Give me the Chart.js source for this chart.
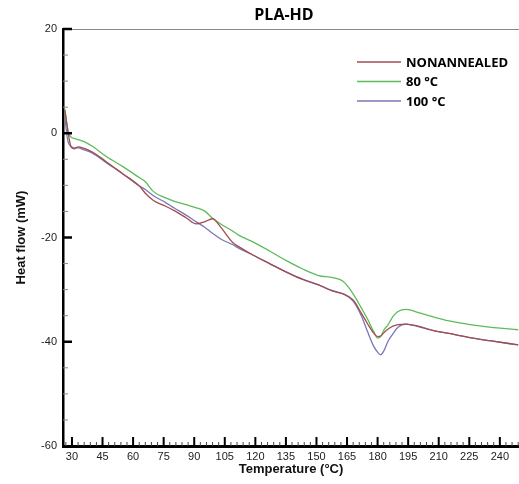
<!DOCTYPE html>
<html lang="en">
<head>
  <meta charset="UTF-8" />
  <title>PLA-HD</title>
  <script src="https://cdn.jsdelivr.net/npm/chart.js"></script>
  <style>
    body { margin: 0; background: #fff; }
    #wrap { width: 519px; height: 484px; }
  </style>
</head>
<body>
  <div id="wrap"><canvas id="dscChart" width="519" height="484"></canvas></div>

  <script>
    // temperature grid (°C) shared by all three curves
    const temps = [26.5, 28, 29.5, 31, 33, 36, 40, 47, 55, 63, 66, 70, 76, 80, 86, 91, 95, 99, 103, 109,
      112, 119, 127, 135, 143, 151, 158, 163, 168, 172, 175, 178, 180, 181.5, 183, 185, 187.5, 190, 194,
      200, 207, 215, 224, 235, 249];

    // heat flow (mW)
    const nonAnnealed = [4.5, 0.5, -2.6, -3.0, -2.6, -2.9, -3.6, -5.5, -7.8, -10.1, -11.5, -12.9, -14.0, -14.8,
      -16.2, -17.4, -17.0, -16.4, -18.0, -21.0, -21.8, -23.4, -25.0, -26.6, -28.0, -29.1, -30.3, -30.8, -32.0,
      -34.5, -36.5, -38.3, -39.0, -38.9, -38.3, -37.6, -37.0, -36.7, -36.6, -37.1, -37.8, -38.4, -39.1, -39.8, -40.6];
    const annealed80 = [4.6, 0.5, -0.7, -1.0, -1.2, -1.6, -2.5, -4.5, -6.4, -8.5, -9.3, -11.2, -12.4, -13.0,
      -13.7, -14.3, -14.9, -16.3, -17.4, -18.8, -19.6, -20.9, -22.6, -24.4, -26.0, -27.3, -27.7, -28.4, -30.8,
      -33.5, -35.6, -38.0, -39.3, -39.0, -37.8, -36.8, -35.2, -34.2, -33.8, -34.4, -35.2, -36.0, -36.6, -37.2, -37.7];
    const annealed100 = [3.0, -1.5, -2.5, -2.8, -2.8, -3.2, -3.8, -5.7, -7.8, -10.1, -10.8, -12.0, -13.3, -14.3,
      -15.7, -17.0, -18.0, -19.2, -20.3, -21.4, -22.1, -23.4, -25.0, -26.6, -28.0, -29.1, -30.2, -30.8, -32.2,
      -35.0, -38.0, -40.8, -42.0, -42.5, -41.8, -40.0, -38.5, -37.2, -36.6, -37.0, -37.8, -38.4, -39.1, -39.8, -40.6];

    const seriesNames = ['NONANNEALED', '80 °C', '100 °C'];
    const xTicks = [30, 45, 60, 75, 90, 105, 120, 135, 150, 165, 180, 195, 210, 225, 240];
    const yTicks = [-60, -40, -20, 0, 20];

    const toPoints = arr => arr.map((v, i) => ({ x: temps[i], y: v }));

    Chart.defaults.font.family = "'Liberation Sans', Arial, sans-serif";

    // title, legend, top frame and the inward tick marks
    const decorations = {
      id: 'decorations',
      afterDraw(chart) {
        const ctx = chart.ctx;
        const area = chart.chartArea;
        const xs = chart.scales.x;
        const ys = chart.scales.y;
        ctx.save();

        // top frame line
        ctx.strokeStyle = '#8a8a8a';
        ctx.lineWidth = 1;
        ctx.beginPath();
        ctx.moveTo(area.left, area.top + 0.5);
        ctx.lineTo(area.right, area.top + 0.5);
        ctx.stroke();

        // y ticks every 5, major every 20
        for (let v = -55; v <= 20; v += 5) {
          const py = ys.getPixelForValue(v);
          const major = v % 20 === 0;
          ctx.strokeStyle = major ? '#000' : '#8a8a8a';
          ctx.lineWidth = major ? 2.5 : 1;
          ctx.beginPath();
          ctx.moveTo(area.left, py);
          ctx.lineTo(area.left + (major ? 9 : 5), py);
          ctx.stroke();
        }

        // x ticks every 3, major every 15
        for (let v = 27; v <= 249; v += 3) {
          const px = xs.getPixelForValue(v);
          const major = (v - 30) % 15 === 0;
          ctx.strokeStyle = major ? '#000' : '#444';
          ctx.lineWidth = major ? 2 : 1;
          ctx.beginPath();
          ctx.moveTo(px, area.bottom);
          ctx.lineTo(px, area.bottom - (major ? 9 : 4));
          ctx.stroke();
        }

        // chart title
        ctx.fillStyle = '#000';
        ctx.font = "bold 16px 'Open Sans'";
        ctx.textAlign = 'center';
        ctx.textBaseline = 'middle';
        ctx.fillText('PLA-HD', 284, 15);

        // legend
        ctx.font = "bold 13px 'Open Sans'";
        ctx.textAlign = 'left';
        chart.data.datasets.forEach((ds, i) => {
          const ly = 62 + i * 19.5;
          ctx.strokeStyle = ds.borderColor;
          ctx.lineWidth = 1.3;
          ctx.beginPath();
          ctx.moveTo(357, ly);
          ctx.lineTo(401, ly);
          ctx.stroke();
          ctx.fillStyle = '#000';
          ctx.fillText(ds.label, 406, ly + 1);
        });
        ctx.restore();
      }
    };

    const ctx = document.getElementById('dscChart').getContext('2d');
    new Chart(ctx, {
      type: 'line',
      data: {
        datasets: [
          { label: seriesNames[0], data: toPoints(nonAnnealed), borderColor: '#a04e50' },
          { label: seriesNames[1], data: toPoints(annealed80), borderColor: '#5cbc5a' },
          { label: seriesNames[2], data: toPoints(annealed100), borderColor: '#7c76b6' }
        ].reverse().map(d => Object.assign(d, {
          borderWidth: 1.3,
          pointRadius: 0,
          fill: false,
          cubicInterpolationMode: 'monotone'
        })).reverse()
      },
      options: {
        responsive: false,
        animation: false,
        layout: { padding: { top: 29, left: 0, right: 0, bottom: 0 } },
        plugins: {
          legend: { display: false },
          tooltip: { enabled: false }
        },
        scales: {
          x: {
            type: 'linear',
            min: 25.6,
            max: 249.4,
            afterBuildTicks: scale => { scale.ticks = xTicks.map(v => ({ value: v })); },
            afterFit: scale => { scale.height = 38; },
            grid: { display: false, drawTicks: false },
            border: { display: true, color: '#000', width: 3 },
            ticks: { autoSkip: false, maxRotation: 0, padding: 4, color: '#222', font: { size: 11 } },
            title: {
              display: true,
              text: 'Temperature (°C)',
              color: '#111',
              padding: 7,
              font: { size: 13, weight: 'bold' }
            }
          },
          y: {
            min: -60,
            max: 20,
            afterBuildTicks: scale => { scale.ticks = yTicks.map(v => ({ value: v })); },
            afterFit: scale => { scale.width = 63; },
            grid: { display: false, drawTicks: false },
            border: { display: true, color: '#000', width: 2.5 },
            ticks: { padding: 6, color: '#222', font: { size: 11 } },
            title: {
              display: true,
              text: 'Heat flow (mW)',
              color: '#111',
              padding: 14,
              font: { size: 13, weight: 'bold' }
            }
          }
        }
      },
      plugins: [decorations]
    });
  </script>
</body>
</html>
